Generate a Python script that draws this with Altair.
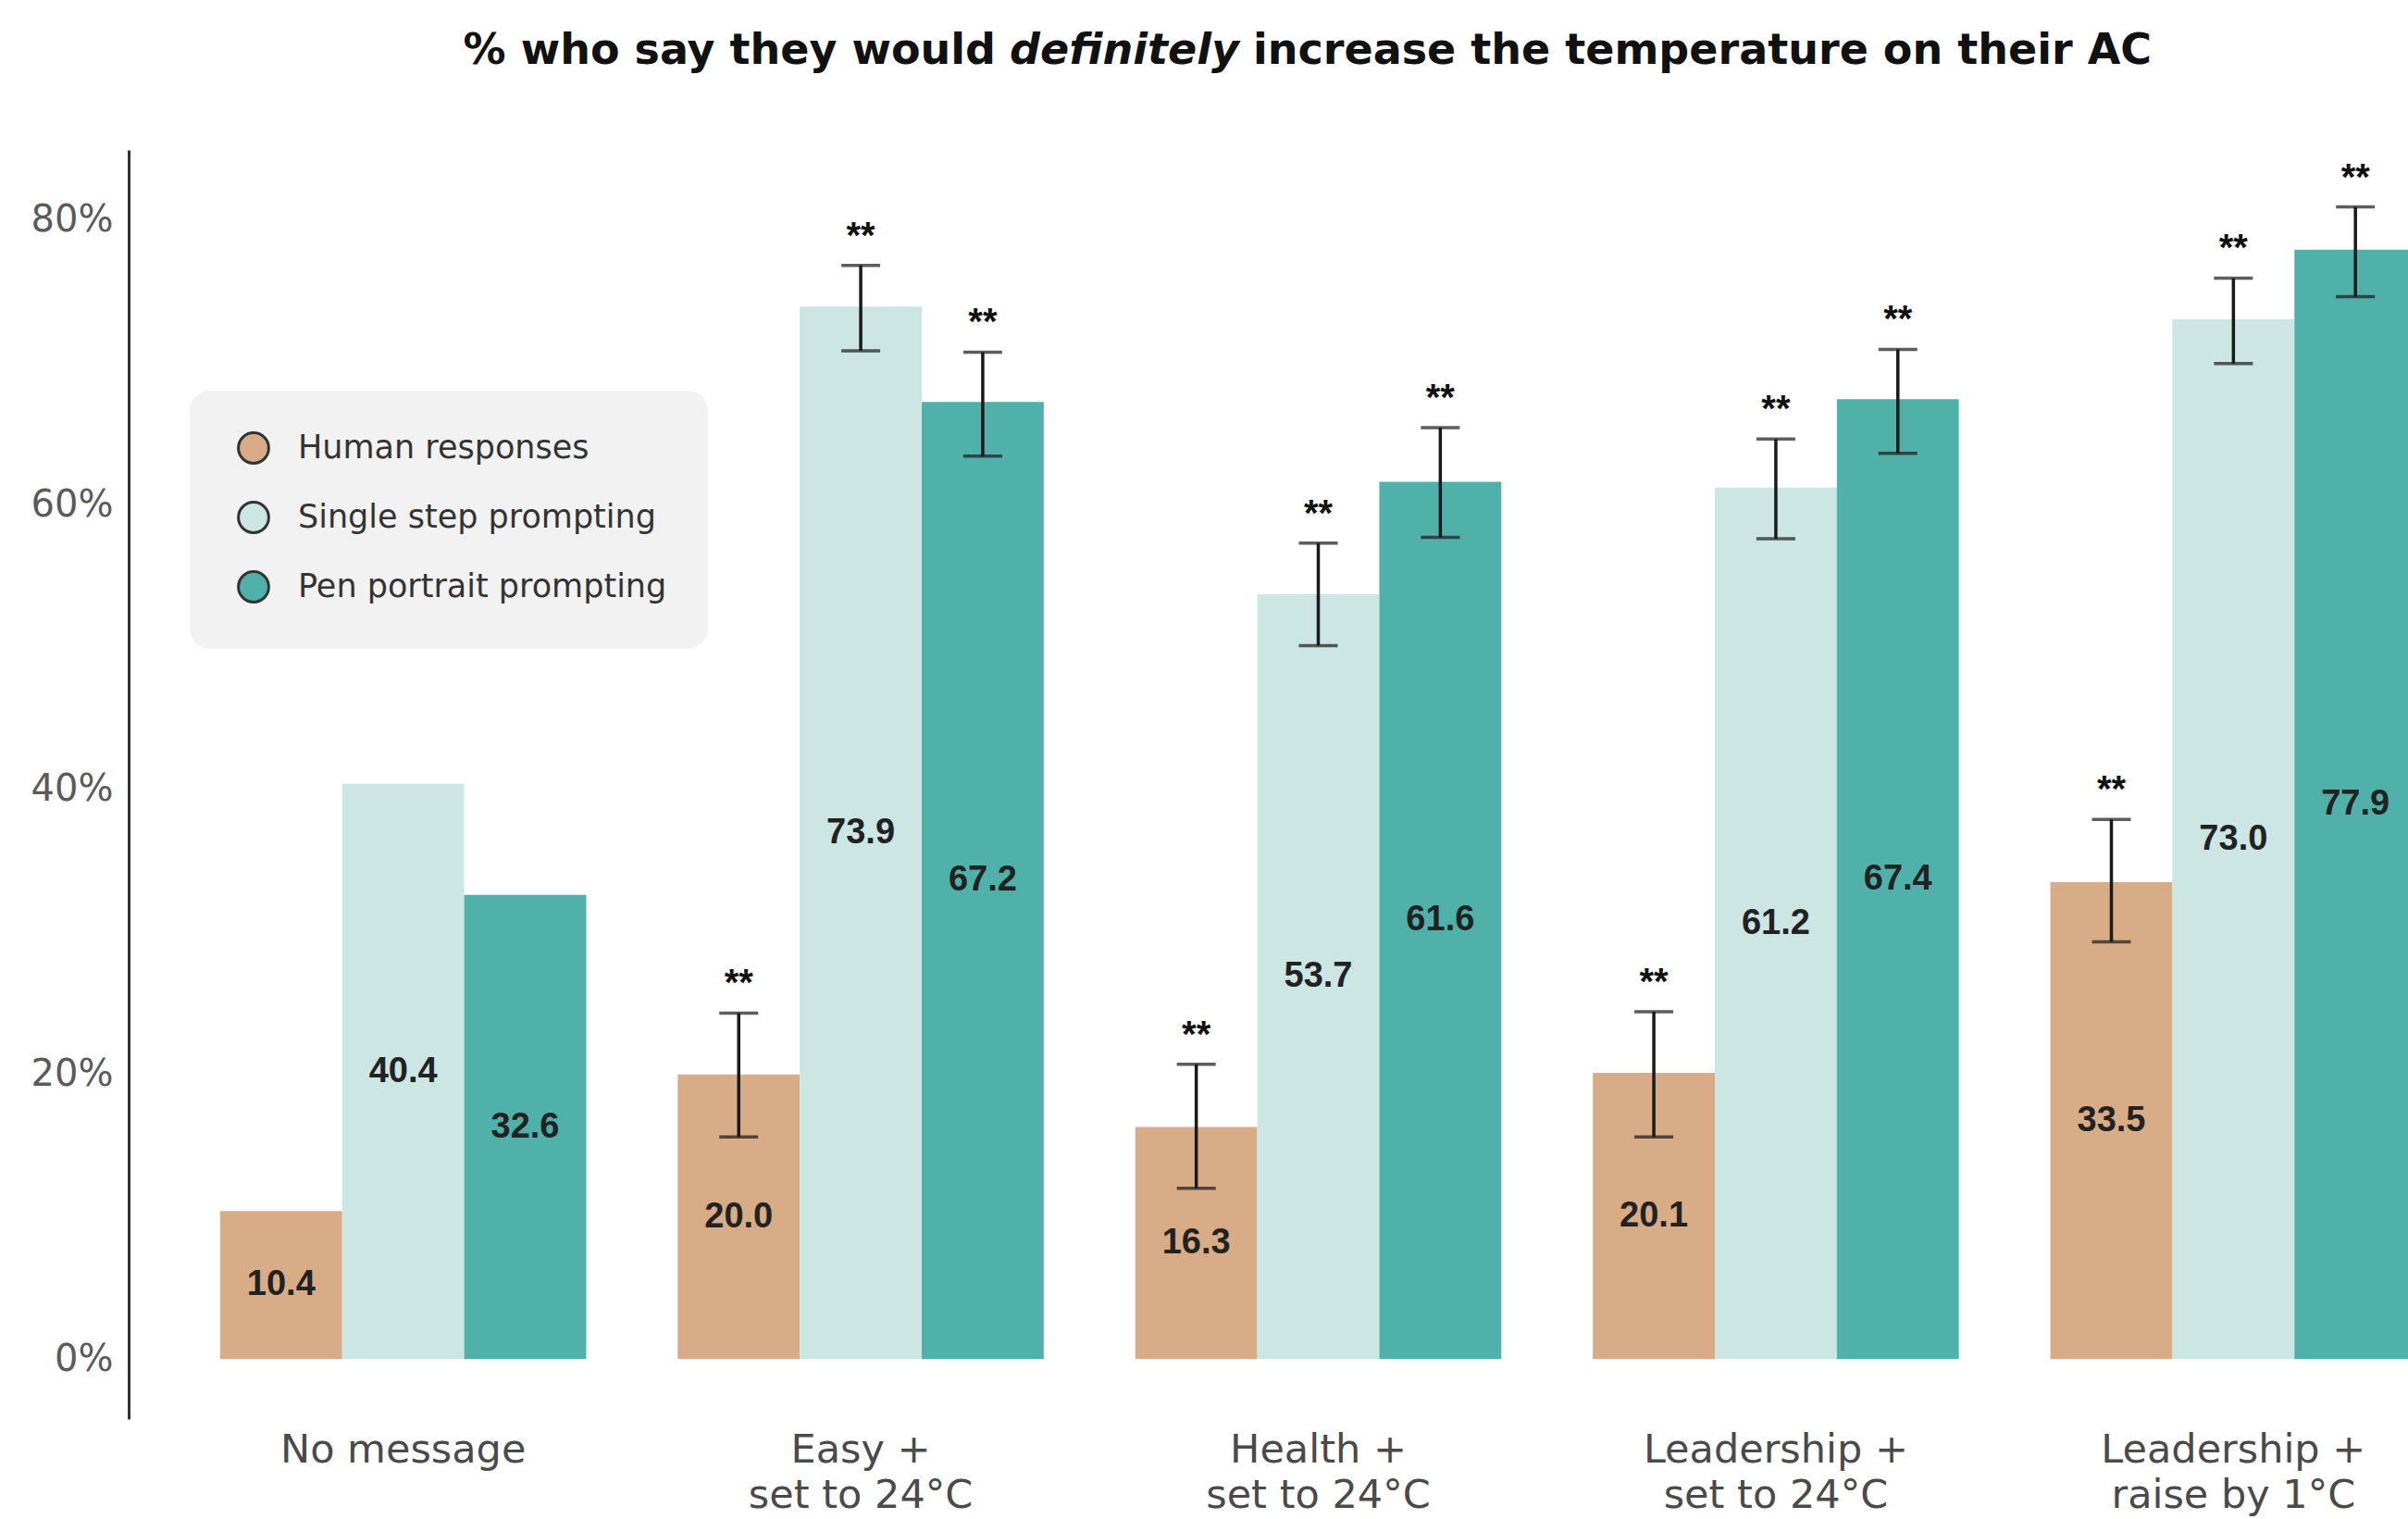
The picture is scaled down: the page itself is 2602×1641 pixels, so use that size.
import altair as alt
import pandas as pd

groups = ["No message", "Easy +\nset to 24°C", "Health +\nset to 24°C",
          "Leadership +\nset to 24°C", "Leadership +\nraise by 1°C"]
series = ["Human responses", "Single step prompting", "Pen portrait prompting"]
colors = ["#D8AC86", "#CCE6E4", "#50B1AB"]

human = [10.4, 20.0, 16.3, 20.1, 33.5]
single = [40.4, 73.9, 53.7, 61.2, 73.0]
pen = [32.6, 67.2, 61.6, 67.4, 77.9]

human_lo = [None, 15.6, 12.0, 15.6, 29.3]
human_hi = [None, 24.3, 20.7, 24.4, 37.9]
single_lo = [None, 70.8, 50.1, 57.6, 69.9]
single_hi = [None, 76.8, 57.3, 64.6, 75.9]
pen_lo = [None, 63.4, 57.7, 63.6, 74.6]
pen_hi = [None, 70.7, 65.4, 70.9, 80.9]
stars = ["", "**", "**", "**", "**"]

y_ticks = [0, 20, 40, 60, 80]

rows = []
for s, vals, los, his in [(series[0], human, human_lo, human_hi),
                          (series[1], single, single_lo, single_hi),
                          (series[2], pen, pen_lo, pen_hi)]:
    for g, v, lo, hi, st in zip(groups, vals, los, his, stars):
        rows.append({"group": g, "series": s, "value": v, "lo": lo, "hi": hi,
                     "star": st, "label": f"{v:.1f}"})
df = pd.DataFrame(rows)

W, H = 2463, 1371
LABEL_FONT = "DejaVu Sans"

x_enc = alt.X("group:N", sort=groups,
              scale=alt.Scale(range=[0, 2571], paddingInner=0.2, paddingOuter=0.2),
              axis=alt.Axis(title=None, labelAngle=0, domain=False, ticks=False,
                            labelExpr="split(datum.label, '\\n')", labelLimit=0,
                            labelFontSize=43, labelFont=LABEL_FONT, labelColor="#4a4a4a",
                            labelPadding=12, labelLineHeight=49, labelBaseline="top"))
xo_enc = alt.XOffset("series:N", sort=series,
                     scale=alt.Scale(domain=series, paddingInner=0, paddingOuter=0))
y_scale = alt.Scale(domain=[-4.2, 84.9], nice=False, zero=False)

base = alt.Chart(df)

bars = base.mark_bar(clip=True).encode(
    x=x_enc,
    xOffset=xo_enc,
    y=alt.Y("value:Q", scale=y_scale,
            axis=alt.Axis(title=None, values=y_ticks, grid=False, ticks=False,
                          labelExpr="datum.value + '%'", labelFontSize=40,
                          labelFont=LABEL_FONT, labelColor="#5a5a5a", labelPadding=17,
                          domainColor="#333333", domainWidth=3)),
    color=alt.Color("series:N", scale=alt.Scale(domain=series, range=colors),
                    legend=alt.Legend(title=None, orient="none", legendX=66, legendY=260,
                                      fillColor="#F2F2F2", cornerRadius=22, padding=44,
                                      symbolType="circle", symbolSize=1075,
                                      symbolStrokeColor="#333333", symbolStrokeWidth=3,
                                      symbolOffset=7, labelLimit=0,
                                      labelFontSize=35, labelFont=LABEL_FONT,
                                      labelColor="#333333", rowPadding=29,
                                      labelOffset=30)),
)

labels = base.transform_calculate(mid="datum.value / 2").mark_text(
    font="Liberation Sans", fontWeight="bold", fontSize=38, color="#222222",
    baseline="middle", clip=True
).encode(x=x_enc, xOffset=xo_enc, y=alt.Y("mid:Q", scale=y_scale), text="label:N")

err_df = base.transform_filter("isValid(datum.lo)")

err_rule = err_df.mark_rule(color="#1a1a1a", strokeWidth=3.5, clip=True).encode(
    x=x_enc, xOffset=xo_enc, y=alt.Y("lo:Q", scale=y_scale), y2="hi:Q")
cap_lo = err_df.mark_tick(color="#1a1a1a", thickness=3.5, size=42, clip=True).encode(
    x=x_enc, xOffset=xo_enc, y=alt.Y("lo:Q", scale=y_scale))
cap_hi = err_df.mark_tick(color="#1a1a1a", thickness=3.5, size=42, clip=True).encode(
    x=x_enc, xOffset=xo_enc, y=alt.Y("hi:Q", scale=y_scale))
star_txt = err_df.mark_text(fontSize=40, fontWeight="bold", font="Liberation Sans",
                            color="#111111", dy=-31, baseline="middle", clip=True).encode(
    x=x_enc, xOffset=xo_enc, y=alt.Y("hi:Q", scale=y_scale), text="star:N")

title_df = pd.DataFrame({"a": ["% who say they would"], "b": ["definitely"],
                         "c": ["increase the temperature on their AC"]})
TF = "DejaVu Sans"
TS = 46
TY = -107
t1 = alt.Chart(title_df).mark_text(font=TF, fontSize=TS, fontWeight="bold", align="right",
                                   baseline="middle", color="#111111").encode(
    x=alt.value(937), y=alt.value(TY), text="a:N")
t2 = alt.Chart(title_df).mark_text(font=TF, fontSize=TS, fontWeight="bold", fontStyle="italic",
                                   align="center", baseline="middle", color="#111111").encode(
    x=alt.value(1076), y=alt.value(TY), text="b:N")
t3 = alt.Chart(title_df).mark_text(font=TF, fontSize=TS, fontWeight="bold", align="left",
                                   baseline="middle", color="#111111").encode(
    x=alt.value(1215), y=alt.value(TY), text="c:N")

chart = alt.layer(bars, labels, err_rule, cap_lo, cap_hi, star_txt, t1, t2, t3).properties(
    width=W, height=H,
    autosize=alt.AutoSizeParams(type="none"),
    padding={"left": 139, "top": 162, "right": 0, "bottom": 108},
).configure(background="white", view=alt.ViewConfig(stroke=None))

chart.save("out.html", embed_options={"renderer": "svg", "actions": False})
